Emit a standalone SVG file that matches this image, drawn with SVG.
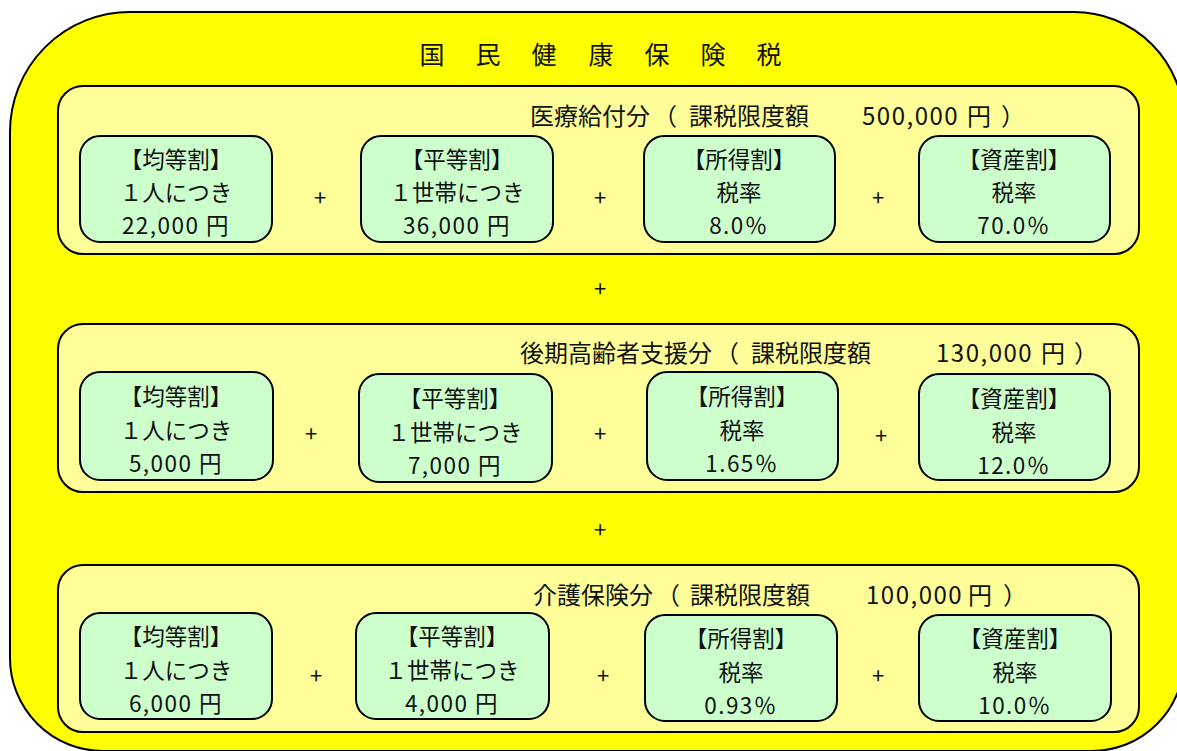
<svg xmlns="http://www.w3.org/2000/svg" width="1177" height="751" viewBox="0 0 1177 751">
<style>
.outer{fill:#FFFF00;stroke:#000;stroke-width:2}
.panel{fill:#FFFF99;stroke:#000;stroke-width:2}
.box{fill:#CCFFCC;stroke:#000;stroke-width:2}
text{font-family:"Noto Sans CJK JP","Noto Sans CJK SC",sans-serif;fill:#111}
.t{font-size:25px}
.s{font-size:24px}
.b{font-size:22.5px;text-anchor:middle}
.n{letter-spacing:1.5px}
.p{font-size:22px;text-anchor:middle}
</style>
<rect width="1177" height="751" fill="#fff"/>
<g id="outer">
<path class="outer" d="M130,12 H1074 A110,110 0 0 1 1184,122 V659 A92,92 0 0 1 1092,751 H103 A93,93 0 0 1 10,658 V132 A120,120 0 0 1 130,12 Z"/>
<text class="t" text-anchor="middle" x="432 488 544 601 657 713 769" y="64">国民健康保険税</text>
</g>
<g id="panel1">
<rect class="panel" x="58" y="86" width="1081" height="168" rx="25"/>
<text class="s" y="125"><tspan x="530">医療給付分</tspan><tspan x="653">（</tspan><tspan x="689">課税限度額</tspan><tspan class="n" x="862">500,000</tspan><tspan x="967">円</tspan><tspan x="1001">）</tspan></text>
</g>
<g id="p1b1"><rect class="box" x="80" y="136" width="192" height="106" rx="20"/>
<text class="b" x="176" y="168">【均等割】</text><text class="b" x="176" y="201">１人につき</text><text class="b n" x="176" y="234">22,000 円</text></g>
<g id="p1b2"><rect class="box" x="361" y="136" width="192" height="106" rx="20"/>
<text class="b" x="457" y="168">【平等割】</text><text class="b" x="457" y="201">１世帯につき</text><text class="b n" x="457" y="234">36,000 円</text></g>
<g id="p1b3"><rect class="box" x="644" y="136" width="191" height="106" rx="20"/>
<text class="b" x="739" y="168">【所得割】</text><text class="b" x="739" y="201">税率</text><text class="b n" x="739" y="234">8.0％</text></g>
<g id="p1b4"><rect class="box" x="919" y="136" width="191" height="106" rx="20"/>
<text class="b" x="1014" y="168">【資産割】</text><text class="b" x="1014" y="201">税率</text><text class="b n" x="1014" y="234">70.0％</text></g>

<g id="panel2">
<rect class="panel" x="58" y="324" width="1081" height="168" rx="25"/>
<text class="s" y="362"><tspan x="520">後期高齢者支援分</tspan><tspan x="715">（</tspan><tspan x="751">課税限度額</tspan><tspan class="n" x="936">130,000</tspan><tspan x="1041">円</tspan><tspan x="1074">）</tspan></text>
</g>
<g id="p2b1"><rect class="box" x="80" y="372" width="193" height="108" rx="20"/>
<text class="b" x="176" y="405">【均等割】</text><text class="b" x="176" y="439">１人につき</text><text class="b n" x="176" y="472">5,000 円</text></g>
<g id="p2b2"><rect class="box" x="359" y="374" width="193" height="108" rx="20"/>
<text class="b" x="455" y="407">【平等割】</text><text class="b" x="455" y="441">１世帯につき</text><text class="b n" x="455" y="474">7,000 円</text></g>
<g id="p2b3"><rect class="box" x="647" y="372" width="191" height="108" rx="20"/>
<text class="b" x="742" y="405">【所得割】</text><text class="b" x="742" y="439">税率</text><text class="b n" x="742" y="472">1.65％</text></g>
<g id="p2b4"><rect class="box" x="919" y="374" width="191" height="106" rx="20"/>
<text class="b" x="1014" y="407">【資産割】</text><text class="b" x="1014" y="441">税率</text><text class="b n" x="1014" y="474">12.0％</text></g>

<g id="panel3">
<rect class="panel" x="58" y="565" width="1081" height="167" rx="25"/>
<text class="s" y="604"><tspan x="533">介護保険分</tspan><tspan x="656">（</tspan><tspan x="690">課税限度額</tspan><tspan class="n" x="866">100,000</tspan><tspan x="968">円</tspan><tspan x="1003">）</tspan></text>
</g>
<g id="p3b1"><rect class="box" x="80" y="613" width="192" height="106" rx="20"/>
<text class="b" x="176" y="645">【均等割】</text><text class="b" x="176" y="679">１人につき</text><text class="b n" x="176" y="712">6,000 円</text></g>
<g id="p3b2"><rect class="box" x="356" y="613" width="193" height="106" rx="20"/>
<text class="b" x="452" y="645">【平等割】</text><text class="b" x="452" y="679">１世帯につき</text><text class="b n" x="452" y="712">4,000 円</text></g>
<g id="p3b3"><rect class="box" x="645" y="615" width="192" height="106" rx="20"/>
<text class="b" x="741" y="647">【所得割】</text><text class="b" x="741" y="681">税率</text><text class="b n" x="741" y="714">0.93％</text></g>
<g id="p3b4"><rect class="box" x="919" y="615" width="192" height="106" rx="20"/>
<text class="b" x="1015" y="647">【資産割】</text><text class="b" x="1015" y="681">税率</text><text class="b n" x="1015" y="714">10.0％</text></g>

<g id="connectors">
<text class="p" x="320" y="206">+</text><text class="p" x="600" y="206">+</text><text class="p" x="878" y="206">+</text>
<text class="p" x="600" y="297">+</text>
<text class="p" x="311" y="442">+</text><text class="p" x="600" y="442">+</text><text class="p" x="881" y="444">+</text>
<text class="p" x="600" y="538">+</text>
<text class="p" x="316" y="684">+</text><text class="p" x="603" y="684">+</text><text class="p" x="878" y="684">+</text>
</g>
</svg>
